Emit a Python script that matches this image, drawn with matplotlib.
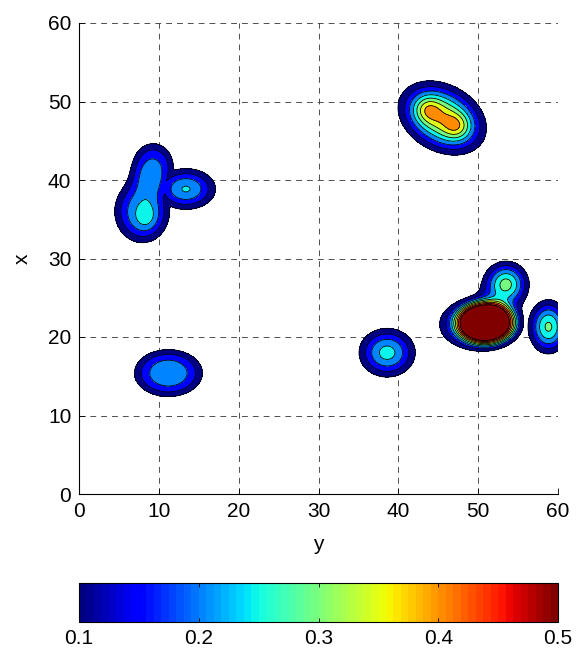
import numpy as np
import matplotlib
matplotlib.use("Agg")
import matplotlib.pyplot as plt
from matplotlib.colors import Normalize
from matplotlib.cm import ScalarMappable

plt.rcParams['font.family'] = ['Liberation Sans', 'DejaVu Sans']

# ---- data: bump components (horizontal "y" position, vertical "x" position) ----
# components of the same group are summed; groups are combined by maximum
blob_group = [0, 0, 0, 1, 2, 3, 4, 4, 4, 5, 5, 5, 6]
blob_h     = [7.9, 9.3, 8.4, 13.4, 11.2, 38.6, 45.5, 43.6, 47.4, 51.0, 49.8, 53.5, 58.8]
blob_v     = [36.0, 41.8, 35.4, 38.85, 15.4, 18.0, 47.9, 49.0, 46.8, 21.8, 21.6, 26.8, 21.3]
blob_amp   = [0.23, 0.20, 0.06, 0.255, 0.23, 0.27, 0.38, 0.10, 0.10, 0.55, 0.25, 0.31, 0.31]
blob_sh    = [2.6, 2.0, 1.0, 2.7, 3.2, 2.5, 3.6, 1.2, 1.2, 2.6, 3.4, 1.9, 1.7]
blob_sv    = [3.0, 2.3, 1.3, 1.9, 2.25, 2.2, 2.6, 1.2, 1.2, 1.9, 2.3, 1.9, 2.3]
blob_angle = [0, 0, 0, 0, 0, 0, -30, 0, 0, 0, 0, 0, 0]
blob_power = [1.3, 1.3, 1.0, 1.0, 1.5, 1.0, 1.0, 1.0, 1.0, 2.0, 1.0, 1.0, 1.0]

levels = [0.1, 0.15, 0.2, 0.25, 0.3, 0.35, 0.4, 0.45, 0.5]
h_ticks = [0, 10, 20, 30, 40, 50, 60]
v_ticks = [0, 10, 20, 30, 40, 50, 60]
cbar_ticks = [0.1, 0.2, 0.3, 0.4, 0.5]

# ---- build field ----
gh = np.linspace(0, 60, 241)
gv = np.linspace(0, 60, 241)
H, V = np.meshgrid(gh, gv)
groups = {}
for g, hc, vc, a, sh, sv, ang, p in zip(blob_group, blob_h, blob_v, blob_amp,
                                         blob_sh, blob_sv, blob_angle, blob_power):
    t = np.deg2rad(ang)
    dh, dv = H - hc, V - vc
    u = dh * np.cos(t) + dv * np.sin(t)
    w = -dh * np.sin(t) + dv * np.cos(t)
    q = u**2 / (2 * sh**2) + w**2 / (2 * sv**2)
    groups.setdefault(g, np.zeros_like(H))
    groups[g] += a * np.exp(-q**p)
Z = np.max(np.stack(list(groups.values())), axis=0)

cmap = matplotlib.colormaps['jet'].resampled(64)
norm = Normalize(vmin=0.1, vmax=0.5)
fill_levels = levels + [100]
fill_colors = [cmap(norm(l)) for l in levels]

FS = 15
fig = plt.figure(figsize=(5.76, 6.49), dpi=100)
ax = fig.add_axes([79/576, 1 - 494/649, (558-79)/576, (494-23)/649])
ax.set_axisbelow(True)
ax.grid(True, color='#333333', linestyle=(0, (7, 6)), linewidth=0.6)
ax.contourf(H, V, Z, levels=fill_levels, colors=fill_colors, zorder=2)
ax.contour(H, V, Z, levels=levels, colors='k', linewidths=0.6, zorder=3)

ax.set_xlim(0, 60)
ax.set_ylim(0, 60)
ax.set_xticks(h_ticks)
ax.set_yticks(v_ticks)
ax.tick_params(direction='in', length=4, labelsize=FS, width=0.6, pad=5.5)
for s in ['top', 'right']:
    ax.spines[s].set_visible(False)
for s in ['left', 'bottom']:
    ax.spines[s].set_linewidth(0.8)
ax.set_xlabel('y', fontsize=FS, labelpad=10)
ax.set_ylabel('x', fontsize=FS, labelpad=12)

cax = fig.add_axes([79/576, 1 - 622/649, (558-79)/576, 39/649])
sm = ScalarMappable(norm=norm, cmap=cmap)
cb = fig.colorbar(sm, cax=cax, orientation='horizontal')
cb.set_ticks(cbar_ticks)
cb.ax.tick_params(direction='in', length=3, width=0.6, labelsize=FS, pad=5,
                  top=True, bottom=True)
cb.outline.set_linewidth(0.8)

fig.savefig('out.png', dpi=100)
